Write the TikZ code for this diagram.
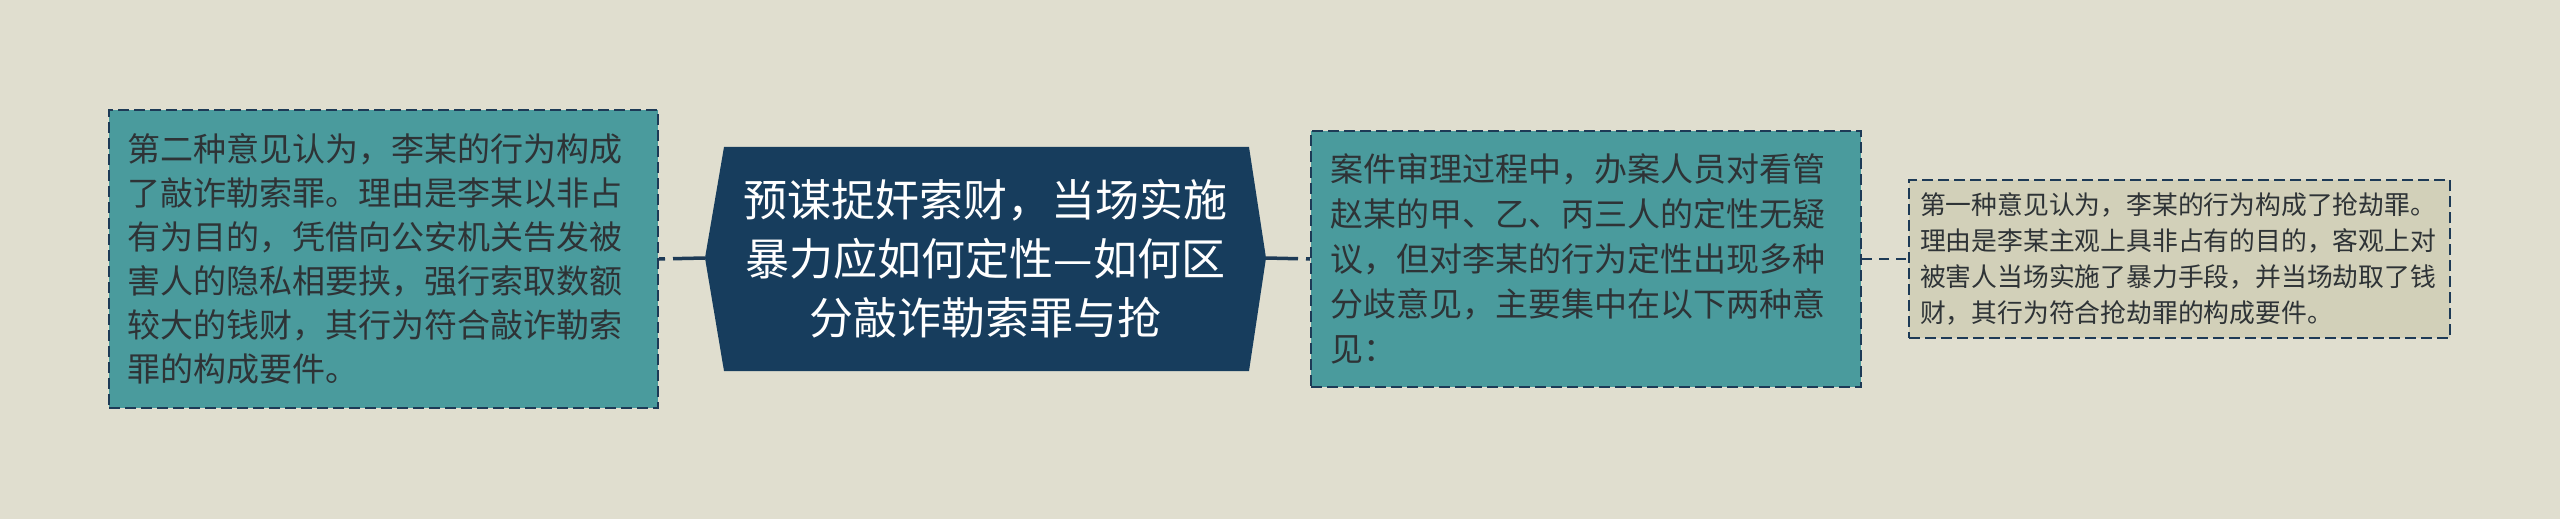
\documentclass[tikz,border=0pt]{standalone}
\usepackage{fontspec}
\setmainfont{Noto Sans CJK SC}
\definecolor{bgc}{HTML}{E0DECF}
\definecolor{tealc}{HTML}{4A9B9D}
\definecolor{navyc}{HTML}{173D5D}
\definecolor{paleс}{HTML}{D2D0B9}
\definecolor{palec}{HTML}{D2D0B9}
\definecolor{borderc}{HTML}{1D3A56}
\definecolor{txtc}{HTML}{2E3336}
\begin{document}
\begin{tikzpicture}[x=0.5pt,y=-0.5pt,
  box/.style={draw=borderc, line width=1pt, dash pattern=on 5.5pt off 2.5pt,
    inner ysep=0pt, align=left, text=txtc, anchor=center},
  conn/.style={draw=borderc, line width=1.75pt, dash pattern=on 16pt off 4pt},
  connb/.style={draw=borderc, line width=1.4pt, dash pattern=on 5pt off 3.5pt}]
\fill[bgc] (0,0) rectangle (2560,519);
\useasboundingbox (0,0) rectangle (2560,519);
% central hexagon
\coordinate (cL) at (705,258);
\coordinate (cR) at (1266,258);
\fill[navyc] (cL) -- (724,147) -- (1249,147) -- (cR) -- (1249,371) -- (724,371) -- cycle;
\node[text=white, align=center, font=\fontsize{22}{29.5}\selectfont] (center) at (985.5,259)
  {预谋捉奸索财，当场实施\\暴力应如何定性—如何区\\分敲诈勒索罪与抢};
% left box
\node[box, fill=tealc, minimum width=274.5pt, minimum height=149pt, inner xsep=9pt,
  text width=256.5pt, font=\fontsize{16.5}{22}\selectfont] (left) at (383.5,259)
  {第二种意见认为，李某的行为构成\\了敲诈勒索罪。理由是李某以非占\\有为目的，凭借向公安机关告发被\\害人的隐私相要挟，强行索取数额\\较大的钱财，其行为符合敲诈勒索\\罪的构成要件。};
% right box 1
\node[box, fill=tealc, minimum width=275pt, minimum height=128pt, inner xsep=9.5pt,
  text width=256pt, font=\fontsize{16.5}{22.5}\selectfont] (r1) at (1586,259)
  {案件审理过程中，办案人员对看管\\赵某的甲、乙、丙三人的定性无疑\\议，但对李某的行为定性出现多种\\分歧意见，主要集中在以下两种意\\见：};
% right box 2
\node[box, fill=palec, minimum width=270.5pt, minimum height=79pt, inner xsep=5.5pt,
  text width=259.5pt, font=\fontsize{12.9}{18}\selectfont] (r2) at (2179.5,259)
  {第一种意见认为，李某的行为构成了抢劫罪。\\理由是李某主观上具非占有的目的，客观上对\\被害人当场实施了暴力手段，并当场劫取了钱\\财，其行为符合抢劫罪的构成要件。};
% connectors
\draw[conn] (cL) -- (left.east);
\draw[conn] (cR) -- (r1.west);
\draw[connb] (r1.east) -- (r2.west);
\end{tikzpicture}
\end{document}
